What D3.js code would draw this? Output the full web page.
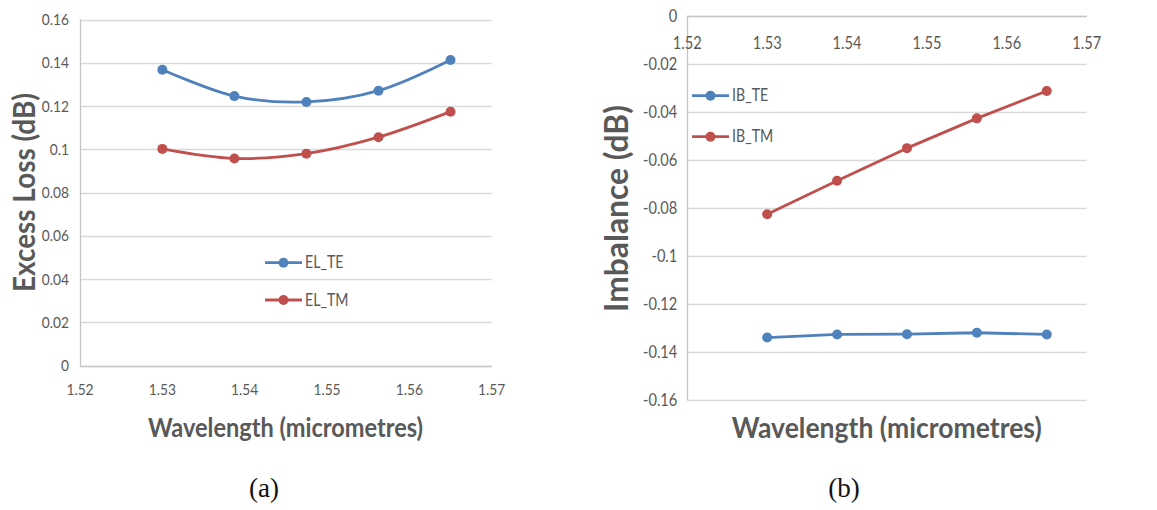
<!DOCTYPE html>
<html>
<head>
<meta charset="utf-8">
<script src="https://cdn.jsdelivr.net/npm/d3@7"></script>
<style>
  html, body { margin: 0; padding: 0; background: #fff; }
  svg { display: block; }
</style>
</head>
<body>
<svg id="fig" width="1157" height="510"></svg>
<script>
// Wavelength sweep points (micrometres), shared by both panels
const wavelengths = [1.53, 1.53875, 1.5475, 1.55625, 1.565];

// Panel (a): excess loss (dB)
const elTE = [0.1368, 0.1246, 0.1219, 0.1271, 0.1413];
const elTM = [0.1002, 0.0958, 0.0980, 0.1056, 0.1174];

// Panel (b): imbalance (dB)
const ibTE = [-0.1339, -0.1326, -0.1325, -0.1319, -0.1326];
const ibTM = [-0.0826, -0.0687, -0.0551, -0.0427, -0.0313];

// Tick values
const xTicks = [1.52, 1.53, 1.54, 1.55, 1.56, 1.57];
const yTicksA = [0, 0.02, 0.04, 0.06, 0.08, 0.1, 0.12, 0.14, 0.16];
const yTicksB = [0, -0.02, -0.04, -0.06, -0.08, -0.1, -0.12, -0.14, -0.16];

const BLUE = "#4f81bd", RED = "#c0504d", TXT = "#595959";
const GRID = "#d9d9d9", AXIS = "#c6c6c6";
const TICK_FONT = "Lato, 'Open Sans', sans-serif";
const TITLE_FONT = "Lato, 'Open Sans', sans-serif";
const NARROW = 0.86; // horizontal squeeze for the small condensed labels

const fmt = v => String(+v.toFixed(2));
const svg = d3.select("#fig");

function smallText(sel, anchor, size) {
  return sel.attr("dy", "0.35em").attr("text-anchor", anchor)
    .attr("font-family", TICK_FONT).attr("font-size", size)
    .attr("fill", TXT);
}

function panel(opt) {
  const g = svg.append("g");
  const x = d3.scaleLinear().domain([1.52, 1.57]).range(opt.xr);
  const y = d3.scaleLinear().domain(opt.yd).range(opt.yr);

  // horizontal gridlines
  g.append("g").selectAll("line").data(opt.yTicks).join("line")
    .attr("x1", x(1.52)).attr("x2", x(1.57))
    .attr("y1", d => Math.round(y(d)) + 0.5).attr("y2", d => Math.round(y(d)) + 0.5)
    .attr("stroke", GRID).attr("stroke-width", 1.3);

  // value axis line (vertical)
  g.append("line")
    .attr("x1", Math.round(x(1.52)) + 0.5).attr("x2", Math.round(x(1.52)) + 0.5)
    .attr("y1", y(opt.yd[0])).attr("y2", y(opt.yd[1]))
    .attr("stroke", AXIS).attr("stroke-width", 1.3);

  // category axis line at y = 0
  g.append("line")
    .attr("x1", x(1.52)).attr("x2", x(1.57))
    .attr("y1", Math.round(y(0)) + 0.5).attr("y2", Math.round(y(0)) + 0.5)
    .attr("stroke", AXIS).attr("stroke-width", 1.3);

  // y tick labels
  g.append("g").selectAll("text").data(opt.yTicks).join("text")
    .attr("transform", d => `translate(${x(1.52) - opt.yLabelGap},${y(d)}) scale(${NARROW},1)`)
    .call(smallText, "end", opt.tickSize).text(fmt);

  // x tick labels
  g.append("g").selectAll("text").data(xTicks).join("text")
    .attr("transform", d => `translate(${x(d)},${opt.xLabelY}) scale(${NARROW},1)`)
    .call(smallText, "middle", opt.tickSize).text(fmt);

  // series
  opt.series.forEach(s => {
    const pts = wavelengths.map((w, i) => [x(w), y(s.values[i])]);
    g.append("path")
      .attr("d", d3.line().curve(opt.curve)(pts))
      .attr("fill", "none").attr("stroke", s.color)
      .attr("stroke-width", 2.8).attr("stroke-linejoin", "round");
    g.append("g").selectAll("circle").data(pts).join("circle")
      .attr("cx", d => d[0]).attr("cy", d => d[1]).attr("r", 5)
      .attr("fill", s.color);
  });

  // legend
  opt.series.forEach((s, i) => {
    const ly = opt.legend.y[i];
    const lx = opt.legend.x;
    g.append("line").attr("x1", lx).attr("x2", lx + 37)
      .attr("y1", ly).attr("y2", ly)
      .attr("stroke", s.color).attr("stroke-width", 2.8);
    g.append("circle").attr("cx", lx + 18.5).attr("cy", ly).attr("r", 5)
      .attr("fill", s.color);
    g.append("text")
      .attr("transform", `translate(${lx + 40},${ly}) scale(${NARROW},1)`)
      .call(smallText, "start", opt.legend.size).text(s.name);
  });

  // axis titles
  g.append("text")
    .attr("x", opt.xTitle.x).attr("y", opt.xTitle.y).attr("dy", "0.36em")
    .attr("text-anchor", "middle").attr("font-family", TITLE_FONT)
    .attr("font-weight", "bold").attr("font-size", opt.xTitle.size)
    .attr("textLength", opt.xTitle.len).attr("lengthAdjust", "spacingAndGlyphs")
    .attr("fill", TXT).text("Wavelength (micrometres)");

  g.append("text")
    .attr("transform", `translate(${opt.yTitle.x},${opt.yTitle.y}) rotate(-90)`)
    .attr("dy", "0.36em").attr("text-anchor", "middle")
    .attr("font-family", TITLE_FONT).attr("font-weight", "bold")
    .attr("font-size", opt.yTitle.size)
    .attr("textLength", opt.yTitle.len).attr("lengthAdjust", "spacingAndGlyphs")
    .attr("fill", TXT).text(opt.yTitle.text);

  // sub-figure caption
  g.append("text")
    .attr("x", opt.caption.x).attr("y", opt.caption.y)
    .attr("text-anchor", "middle")
    .attr("font-family", "'Liberation Serif', 'DejaVu Serif', serif")
    .attr("font-size", 27).attr("fill", "#111").text(opt.caption.text);
}

panel({
  xr: [80, 491.7], yd: [0, 0.16], yr: [365.7, 19.5],
  yTicks: yTicksA, yLabelGap: 11, xLabelY: 389, tickSize: 16,
  curve: d3.curveCardinal.tension(0),
  series: [
    { name: "EL_TE", values: elTE, color: BLUE },
    { name: "EL_TM", values: elTM, color: RED }
  ],
  legend: { x: 265, y: [262.7, 300], size: 16.5 },
  xTitle: { x: 285.5, y: 428, size: 26, len: 275 },
  yTitle: { x: 24, y: 192.5, size: 31, len: 199, text: "Excess Loss (dB)" },
  caption: { x: 264, y: 497, text: "(a)" }
});

panel({
  xr: [687.3, 1086.7], yd: [-0.16, 0], yr: [400.3, 15.7],
  yTicks: yTicksB, yLabelGap: 10, xLabelY: 43.5, tickSize: 17,
  curve: d3.curveLinear,
  series: [
    { name: "IB_TE", values: ibTE, color: BLUE },
    { name: "IB_TM", values: ibTM, color: RED }
  ],
  legend: { x: 692, y: [95.7, 136.7], size: 16.5 },
  xTitle: { x: 886.7, y: 428, size: 28, len: 310 },
  yTitle: { x: 616.5, y: 208.5, size: 33, len: 207, text: "Imbalance (dB)" },
  caption: { x: 844, y: 497, text: "(b)" }
});
</script>
</body>
</html>
